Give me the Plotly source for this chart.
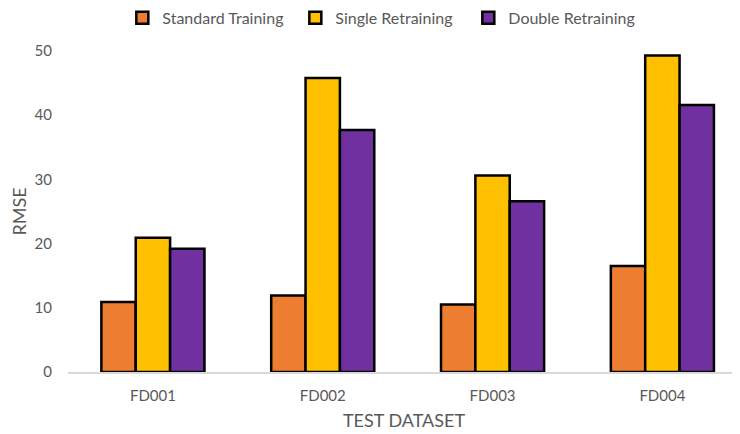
import plotly.graph_objects as go

categories = ["FD001", "FD002", "FD003", "FD004"]
standard_training = [10.9, 11.9, 10.5, 16.5]
single_retraining = [20.9, 45.8, 30.6, 49.3]
double_retraining = [19.2, 37.7, 26.6, 41.6]
series_names = ["Standard Training", "Single Retraining", "Double Retraining"]
y_ticks = [0, 10, 20, 30, 40, 50]

colors = ["#ED7D31", "#FFC000", "#7030A0"]
FONT = "Lato, 'Open Sans', sans-serif"

fig = go.Figure()
for name, vals, col in zip(series_names, [standard_training, single_retraining, double_retraining], colors):
    fig.add_trace(go.Bar(
        x=categories, y=vals, name=name,
        marker=dict(color=col, line=dict(color="#000000", width=2.5)),
    ))

# page body has an 8px default margin; margins compensate for it
fig.update_layout(
    width=740, height=434,
    margin=dict(l=60, r=8, t=43, b=70, autoexpand=False),
    paper_bgcolor="white", plot_bgcolor="white",
    barmode="group", bargap=0.393, bargroupgap=0,
    font=dict(family=FONT, color="#595959", size=15),
    legend=dict(orientation="h", x=0.467, xanchor="center", y=1.103, yanchor="middle",
                font=dict(size=16, color="#595959"), itemwidth=30, traceorder="normal",
                entrywidth=128, entrywidthmode="pixels"),
    xaxis=dict(
        range=[-0.5, 3.457], automargin=False,
        showline=True, linecolor="#D9D9D9", linewidth=1.5,
        showgrid=False, ticks="", ticklabelstandoff=9,
        tickfont=dict(size=15, color="#595959"),
        title=dict(text="TEST DATASET", font=dict(size=18, color="#595959"), standoff=12),
    ),
    yaxis=dict(
        range=[0, 50], tickvals=y_ticks, showgrid=False, zeroline=False, automargin=False,
        showline=False, ticks="", ticklabelstandoff=15,
        tickfont=dict(size=15, color="#595959"),
        title=dict(text="RMSE", font=dict(size=18, color="#595959"), standoff=8),
    ),
)

fig.write_html("out.html")
